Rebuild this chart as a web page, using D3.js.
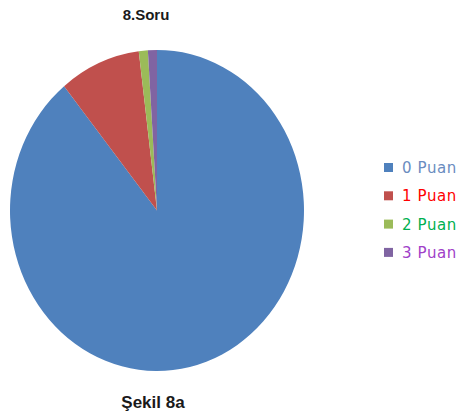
<!DOCTYPE html>
<html>
<head>
<meta charset="utf-8">
<script src="https://cdn.jsdelivr.net/npm/d3@7"></script>
<style>
  body { margin: 0; background: #fff; }
</style>
</head>
<body>
<div id="chart"></div>
<script>
// Chart data
var categories = ["0 Puan", "1 Puan", "2 Puan", "3 Puan"];
var values = [90, 9, 1, 1];
var colors = ["#4F81BD", "#C0504D", "#9BBB59", "#8064A2"];
var labelColors = ["#6A8CC0", "#FF0000", "#00B050", "#A040C8"];

var svgWidth = 460;
var svgHeight = 420;

var svg = d3.select("#chart")
  .append("svg")
  .attr("width", svgWidth)
  .attr("height", svgHeight);

// pie is slightly stretched vertically in the picture
var rx = 147, ry = 160.5;
var pieG = svg.append("g")
  .attr("transform", `translate(157, 210.5) scale(1, ${ry / rx})`);

var pie = d3.pie().sort(null).value(d => d)(values);
var arc = d3.arc().innerRadius(0).outerRadius(rx);

pieG.selectAll("path")
  .data(pie)
  .enter()
  .append("path")
  .attr("d", arc)
  .attr("fill", (d, i) => colors[i]);

// Title and caption
svg.append("text")
  .attr("x", 146)
  .attr("y", 20)
  .attr("text-anchor", "middle")
  .attr("font-family", "'Liberation Sans Narrow', 'Liberation Sans', Arial, sans-serif")
  .attr("font-weight", "bold")
  .attr("font-size", 15)
  .attr("fill", "#1a1a1a")
  .text("8.Soru");

svg.append("text")
  .attr("x", 153)
  .attr("y", 408)
  .attr("text-anchor", "middle")
  .attr("font-family", "'Liberation Sans Narrow', 'Liberation Sans', Arial, sans-serif")
  .attr("font-weight", "bold")
  .attr("font-size", 17)
  .attr("fill", "#1a1a1a")
  .text("Şekil 8a");

// Legend
var legend = svg.append("g")
  .attr("transform", "translate(384, 167)");

var rows = legend.selectAll("g")
  .data(categories)
  .enter()
  .append("g")
  .attr("transform", (d, i) => `translate(0, ${i * 28.3})`);

rows.append("rect")
  .attr("x", 0)
  .attr("y", -4)
  .attr("width", 9)
  .attr("height", 9)
  .attr("fill", (d, i) => colors[i]);

rows.append("text")
  .attr("x", 18)
  .attr("y", 6)
  .attr("font-family", "'DejaVu Sans', Verdana, sans-serif")
  .attr("font-size", 15)
  .attr("letter-spacing", 0.6)
  .attr("fill", (d, i) => labelColors[i])
  .text(d => d);
</script>
</body>
</html>
